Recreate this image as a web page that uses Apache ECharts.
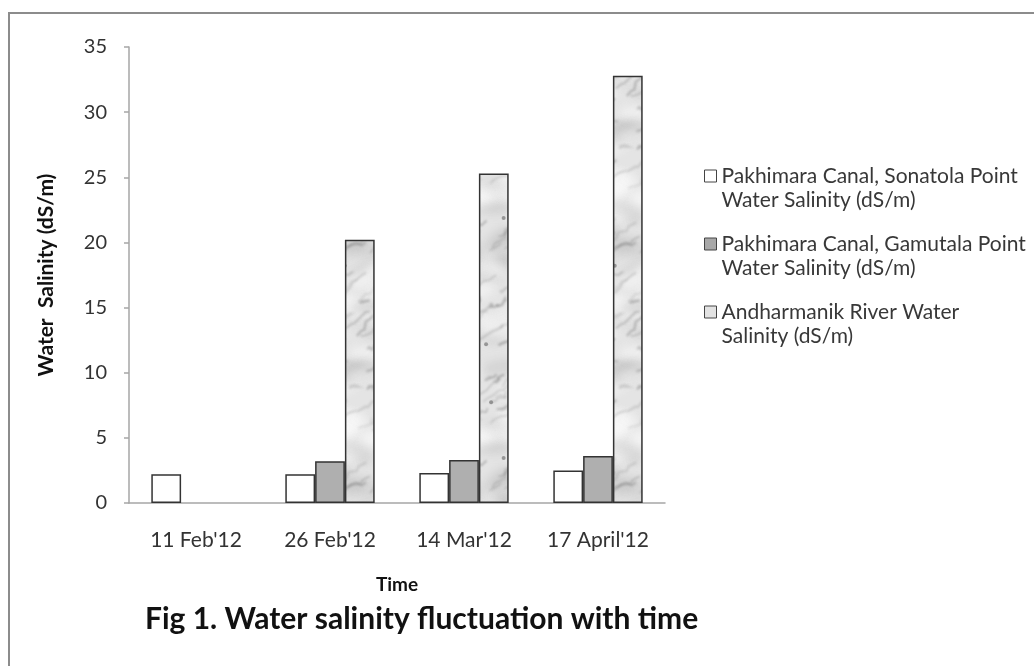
<!DOCTYPE html>
<html>
<head>
<meta charset="utf-8">
<script src="https://cdn.jsdelivr.net/npm/echarts@6/dist/echarts.min.js"></script>
<style>
html,body{margin:0;padding:0;background:#fff;}
#chart{width:1034px;height:666px;}
</style>
</head>
<body>
<div id="chart"></div>
<script>
var categories = ["11 Feb'12", "26 Feb'12", "14 Mar'12", "17 April'12"];
var seriesNames = [
  "Pakhimara Canal, Sonatola Point\nWater Salinity (dS/m)",
  "Pakhimara Canal, Gamutala Point\nWater Salinity (dS/m)",
  "Andharmanik River Water\nSalinity (dS/m)"
];
var sonatola = [2.2, 2.2, 2.3, 2.5];
var gamutala = [null, 3.2, 3.3, 3.6];
var andharmanik = [null, 20.2, 25.3, 32.8];
var yTicks = { min: 0, max: 35, interval: 5 };

// deterministic hash, used for the bar texture decoration only
function h(n) { var s = Math.sin(n * 127.1 + 311.7) * 43758.5453; return s - Math.floor(s); }

function makeMarble() {
  var W = 90, H = 240;
  var c = document.createElement('canvas');
  c.width = W; c.height = H;
  var g = c.getContext('2d');
  g.fillStyle = '#e4e4e4';
  g.fillRect(0, 0, W, H);
  var offs = [];
  for (var ox = -1; ox <= 1; ox++) for (var oy = -1; oy <= 1; oy++) offs.push([ox * W, oy * H]);
  // light and dark cloudy patches (wrapped for seamless tiling)
  try { g.filter = 'blur(5px)'; } catch (e) {}
  for (var p = 0; p < 45; p++) {
    var px = h(p) * W, py = h(p + 100) * H, r = 5 + h(p + 200) * 11;
    var light = p % 2 === 0;
    g.fillStyle = light ? 'rgba(250,250,250,' + (0.35 + h(p + 300) * 0.4) + ')'
                        : 'rgba(140,140,140,' + (0.12 + h(p + 300) * 0.18) + ')';
    for (var q = 0; q < offs.length; q++) {
      g.beginPath();
      g.ellipse(px + offs[q][0], py + offs[q][1], r * 1.7, r * 0.7, -0.5 + h(p + 400) * 0.8, 0, Math.PI * 2);
      g.fill();
    }
  }
  // veins
  try { g.filter = 'blur(1px)'; } catch (e) {}
  for (var k = 0; k < 55; k++) {
    var x0 = h(k + 500) * W, y0 = h(k + 600) * H;
    var len = 8 + h(k + 700) * 24;
    var ang = -0.2 - h(k + 800) * 0.7;
    var a = 0.15 + h(k + 900) * 0.3;
    var lw = 0.8 + h(k + 1000) * 1.8;
    for (var q2 = 0; q2 < offs.length; q2++) {
      g.beginPath();
      g.strokeStyle = 'rgba(100,100,100,' + a + ')';
      g.lineWidth = lw;
      g.moveTo(x0 + offs[q2][0], y0 + offs[q2][1]);
      for (var s = 1; s <= 5; s++) {
        var t = s / 5;
        var jx = (h(k * 10 + s) - 0.5) * 4, jy = (h(k * 10 + s + 50) - 0.5) * 4;
        g.lineTo(x0 + offs[q2][0] + Math.cos(ang) * len * t + jx, y0 + offs[q2][1] + Math.sin(ang) * len * t + jy);
      }
      g.stroke();
    }
  }
  try { g.filter = 'blur(0.7px)'; } catch (e) {}
  for (var d = 0; d < 5; d++) {
    g.beginPath();
    g.fillStyle = 'rgba(90,90,90,0.55)';
    g.arc(5 + h(d + 1100) * (W - 10), 5 + h(d + 1200) * (H - 10), 2, 0, Math.PI * 2);
    g.fill();
  }
  return c;
}

var chart = echarts.init(document.getElementById('chart'), null, { renderer: 'canvas' });
var font = 'Lato, "Open Sans", sans-serif';
var borderCol = '#333333';

var option = {
  backgroundColor: '#ffffff',
  animation: false,
  textStyle: { fontFamily: font },
  title: {
    text: 'Fig 1. Water salinity fluctuation with time',
    left: 140, top: 599,
    textStyle: { fontFamily: font, fontSize: 30, fontWeight: 'bold', color: '#111' }
  },
  legend: {
    orient: 'vertical',
    left: 699, top: 135,
    itemWidth: 12, itemHeight: 12,
    itemGap: -4,
    icon: 'rect',
    selectedMode: false,
    formatter: function (n) { return '\n' + n; },
    textStyle: { fontFamily: font, fontSize: 21, color: '#383838', lineHeight: 24 },
    data: [
      { name: seriesNames[0], itemStyle: { color: '#ffffff', borderColor: '#444', borderWidth: 1 } },
      { name: seriesNames[1], itemStyle: { color: '#a8a8a8', borderColor: '#444', borderWidth: 1 } },
      { name: seriesNames[2], itemStyle: { color: '#e2e2e2', borderColor: '#444', borderWidth: 1 } }
    ]
  },
  grid: { left: 129, right: 369, top: 47, bottom: 163, containLabel: false },
  xAxis: {
    type: 'category',
    data: categories,
    name: 'Time',
    nameLocation: 'middle',
    nameGap: 72,
    nameTextStyle: { fontFamily: font, fontSize: 19, fontWeight: 'bold', color: '#111' },
    axisLine: { lineStyle: { color: '#a6a6a6', width: 1.5 } },
    axisTick: { show: false },
    axisLabel: { fontFamily: font, fontSize: 21, color: '#333', margin: 27 }
  },
  yAxis: {
    type: 'value',
    min: yTicks.min, max: yTicks.max, interval: yTicks.interval,
    name: 'Water  Salinity (dS/m)',
    nameLocation: 'middle',
    nameGap: 72,
    nameRotate: 90,
    nameTextStyle: { fontFamily: font, fontSize: 21, fontWeight: 'bold', color: '#111' },
    axisLine: { show: true, lineStyle: { color: '#a6a6a6', width: 1.5 } },
    axisTick: { show: true, inside: false, length: 5, lineStyle: { color: '#a6a6a6', width: 1.5 } },
    splitLine: { show: false },
    axisLabel: { fontFamily: font, fontSize: 20, color: '#333', margin: 22 }
  },
  series: [
    {
      name: seriesNames[0], type: 'bar', data: sonatola,
      barGap: 0, barCategoryGap: '33.3%',
      itemStyle: { color: '#ffffff', borderColor: borderCol, borderWidth: 1.5 }
    },
    {
      name: seriesNames[1], type: 'bar', data: gamutala,
      barGap: 0, barCategoryGap: '33.3%',
      itemStyle: { color: '#afafaf', borderColor: borderCol, borderWidth: 1.5 }
    },
    {
      name: seriesNames[2], type: 'bar', data: andharmanik,
      barGap: 0, barCategoryGap: '33.3%',
      itemStyle: { color: { image: makeMarble(), repeat: 'repeat' }, borderColor: borderCol, borderWidth: 1.5 }
    }
  ],
  graphic: [
    {
      type: 'polyline',
      shape: { points: [[9, 666], [9, 13], [1034, 13]] },
      style: { stroke: '#8c8c8c', lineWidth: 2, fill: null },
      silent: true
    }
  ]
};
chart.setOption(option);
</script>
</body>
</html>
